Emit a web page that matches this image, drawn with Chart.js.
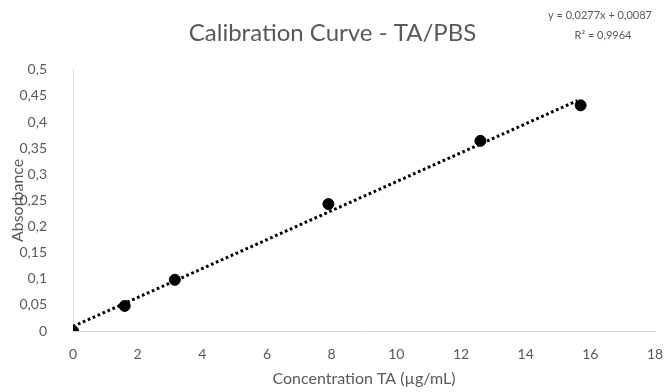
<!DOCTYPE html>
<html>
<head>
<meta charset="utf-8">
<script src="https://cdn.jsdelivr.net/npm/chart.js@4"></script>
<style>
  html, body { margin: 0; padding: 0; background: #fff; }
  #wrap { width: 665px; height: 392px; }
</style>
</head>
<body>
<div id="wrap"><canvas id="chart" width="665" height="392"></canvas></div>
<script>
// Calibration curve TA/PBS: measured points + linear trendline.
const concX = [0, 1.6, 3.15, 7.9, 12.6, 15.7];
const absY = [0, 0.048, 0.098, 0.243, 0.364, 0.432];
const trendX = [0, 15.6];
const trendY = [0.0087, 0.441];
const eqLines = ["y = 0,0277x + 0,0087", "R² = 0,9964"];

const FONT = "Lato, 'Open Sans', sans-serif";
const GREY = "#595959";
const fmtComma = (v) => String(Number(v.toFixed(2))).replace(".", ",");

const eqPlugin = {
  id: "equation",
  afterDraw(chart) {
    const ctx = chart.ctx;
    ctx.save();
    ctx.fillStyle = GREY;
    ctx.font = "11px " + FONT;
    ctx.textAlign = "center";
    ctx.textBaseline = "middle";
    ctx.fillText(eqLines[0], 600, 15);
    ctx.fillText(eqLines[1], 603, 35);
    ctx.restore();
  }
};

new Chart(document.getElementById("chart"), {
  type: "scatter",
  data: {
    datasets: [
      {
        label: "Absorbance",
        data: concX.map((x, i) => ({ x, y: absY[i] })),
        backgroundColor: "#000",
        borderColor: "#000",
        pointRadius: 5.5,
        pointHoverRadius: 5.5,
        order: 1,
      },
      {
        label: "Linear",
        type: "line",
        data: trendX.map((x, i) => ({ x, y: trendY[i] })),
        borderColor: "#000",
        borderWidth: 3,
        borderDash: [2.7, 2.7],
        borderCapStyle: "butt",
        pointRadius: 0,
        fill: false,
        order: 2,
      },
    ],
  },
  options: {
    responsive: false,
    animation: false,
    layout: { padding: { left: 0, right: 0, top: 0, bottom: 0 } },
    plugins: {
      legend: { display: false },
      tooltip: { enabled: false },
      title: {
        display: true,
        text: "Calibration Curve - TA/PBS",
        color: GREY,
        font: { family: FONT, size: 24, weight: "normal" },
        padding: { top: 19, bottom: 22 },
      },
    },
    scales: {
      x: {
        type: "linear",
        min: 0,
        max: 18,
        grid: { display: false },
        border: { display: true, color: "#d9d9d9", width: 1 },
        ticks: { stepSize: 2, color: GREY, font: { family: FONT, size: 14 }, padding: 7 },
        title: {
          display: true,
          text: "Concentration TA (µg/mL)",
          color: GREY,
          font: { family: FONT, size: 16 },
          padding: { top: 5 },
        },
        afterFit(axis) {
          axis.height = 61;
          axis.paddingRight = 10;
        },
      },
      y: {
        min: 0,
        max: 0.5,
        grid: { display: false },
        border: { display: true, color: "#d9d9d9", width: 1 },
        ticks: {
          stepSize: 0.05,
          color: GREY,
          font: { family: FONT, size: 14 },
          padding: 18,
          callback: (v) => fmtComma(v),
        },
        title: {
          display: true,
          text: "Absorbance",
          color: GREY,
          font: { family: FONT, size: 16 },
          padding: { top: 8, bottom: 0 },
        },
        afterFit(axis) { axis.width = 73; },
      },
    },
  },
  plugins: [eqPlugin],
});
</script>
</body>
</html>
